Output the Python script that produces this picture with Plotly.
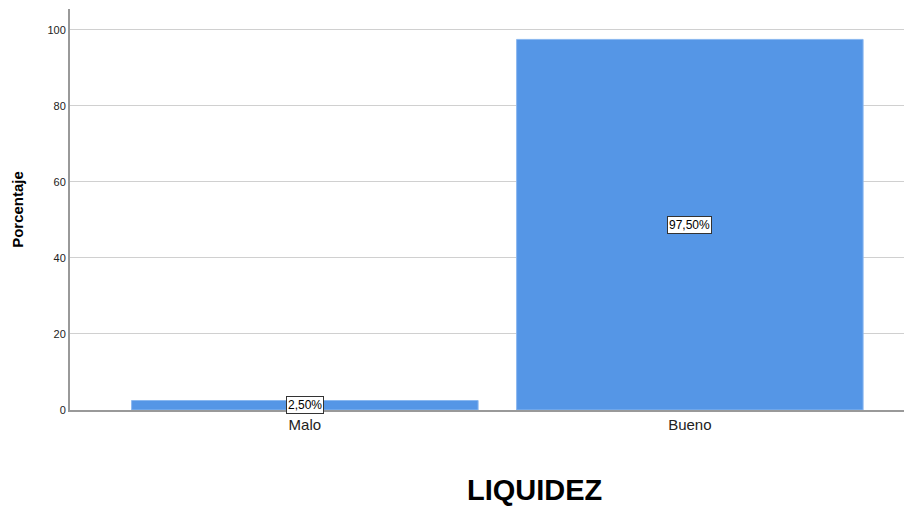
import plotly.graph_objects as go

categorias = ['Malo', 'Bueno']
porcentajes = [2.5, 97.5]
etiquetas = ['2,50%', '97,50%']
y_ticks = [0, 20, 40, 60, 80, 100]

fig = go.Figure(go.Bar(
    x=categorias,
    y=porcentajes,
    width=0.9,
    marker=dict(color='#5596E6', line=dict(color='#8AB8F0', width=1)),
    hoverinfo='skip',
))

# etiquetas con recuadro en el centro de cada barra
for cat, val, txt in zip(categorias, porcentajes, etiquetas):
    fig.add_annotation(
        x=cat, y=val / 2, text=txt, showarrow=False,
        font=dict(family='Arial, Liberation Sans', size=12, color='black'),
        bgcolor='white', bordercolor='#333333', borderwidth=1, borderpad=1,
    )

# titulo del eje x (desplazado a la derecha como en el original)
fig.add_annotation(
    xref='paper', yref='paper', x=0.552, y=-0.2, yanchor='middle',
    text='<b>LIQUIDEZ</b>', showarrow=False,
    font=dict(family='Arial, Liberation Sans', size=29, color='black'),
)

# el body de la pagina tiene 8px de margen, se compensa aqui
fig.update_layout(
    width=904, height=502,
    margin=dict(l=62, r=0, t=1, b=100, autoexpand=False),
    plot_bgcolor='white', paper_bgcolor='white',
    showlegend=False,
    font=dict(family='Arial, Liberation Sans', color='black'),
    xaxis=dict(
        range=[-0.61, 1.577],
        showline=True, linecolor='#999999', linewidth=2,
        tickfont=dict(size=15, color='#222222'),
        ticks='', showgrid=False,
    ),
    yaxis=dict(
        range=[0, 105.5],
        tickvals=y_ticks,
        tickfont=dict(size=11, color='#222222'),
        showline=True, linecolor='#999999', linewidth=2,
        showgrid=True, gridcolor='#D0D0D0', gridwidth=1,
        ticks='', zeroline=False,
        title=dict(text='<b>Porcentaje</b>', font=dict(size=15, color='black'), standoff=20),
    ),
)

fig.write_html('out.html')
